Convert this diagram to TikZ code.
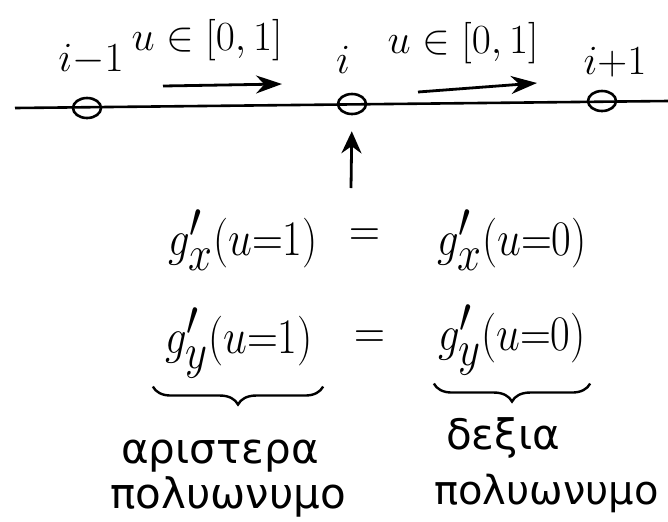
\documentclass[tikz,border=0pt]{standalone}
\usepackage{fontspec}
\setmainfont{Liberation Serif}
\newfontfamily\greekfont{DejaVu Sans}
\usepackage{amsmath,amssymb,graphicx}
\usetikzlibrary{arrows.meta, positioning, calc, shapes.geometric, decorations.pathreplacing}
\newcommand{\narrow}[1]{\scalebox{0.86}[1]{#1}}

\begin{document}
\begin{tikzpicture}[
    x=0.5pt, y=-0.5pt,
    knot/.style={draw, ellipse, line width=1.3pt, minimum width=14pt, minimum height=10pt, inner sep=0pt},
    idx/.style={font=\fontsize{21}{24}\selectfont},
    interval/.style={font=\fontsize{22}{24}\selectfont},
    eq/.style={font=\fontsize{36}{40}\selectfont, inner sep=1pt},
    word/.style={font=\greekfont\fontsize{21}{24}\selectfont, inner sep=1pt},
    arrow/.style={-{Stealth[length=13pt, width=9pt]}, line width=1.4pt},
    brace/.style={decorate, decoration={brace, mirror, amplitude=9pt}, line width=1.2pt}
]
\useasboundingbox (0,0) rectangle (668,521);

% Axis with the three points
\coordinate (axisL) at (15,108);
\coordinate (axisR) at (668,101);
\draw[line width=1.3pt] (axisL) -- (axisR);
\node[knot] (p1) at (87,108) {};
\node[knot] (p2) at (352,104) {};
\node[knot] (p3) at (602,101) {};

\node[idx] (l1) at (91,60) {$i{-}1$};
\node[idx] (l2) at (343,60) {$i$};
\node[idx] (l3) at (615,62) {$i{+}1$};

% Parameter ranges
\node[interval] (r1) at (207,40) {$u\in[0,1]$};
\node[interval] (r2) at (463,43) {$u\in[0,1]$};
\coordinate (a1s) at (163,86);
\coordinate (a1e) at (282,84);
\coordinate (a2s) at (418,92);
\coordinate (a2e) at (537,83);
\draw[arrow] (a1s) -- (a1e);
\draw[arrow] (a2s) -- (a2e);

% Continuity at the joint
\coordinate (up) at (351,188);
\draw[arrow, -{Stealth[length=11pt, width=10pt]}, shorten >=8pt] (up) -- (p2.south);

\node[eq] (lx) at (243,240) {\narrow{$g'_x(u{=}1)$}};
\node[eq] (ex) at (365,238) {\narrow{$=$}};
\node[eq] (rx) at (512,240) {\narrow{$g'_x(u{=}0)$}};
\node[eq] (ly) at (239,343) {\narrow{$g'_y(u{=}1)$}};
\node[eq] (ey) at (370,340) {\narrow{$=$}};
\node[eq] (ry) at (512,340) {\narrow{$g'_y(u{=}0)$}};

% Left / right polynomial
\draw[brace] ($(ly.south west)+(-10,6)$) -- ($(ly.south east)+(8,6)$);
\draw[brace] ($(ry.south west)+(-2,6)$) -- ($(ry.south east)+(2,6)$);
\node[word] (w1) at (220,456) {αριστερα};
\node[word] (w2) at (228,497) {πολυωνυμο};
\node[word] (w3) at (503,438) {δεξια};
\node[word, anchor=west, font=\greekfont\fontsize{20}{24}\selectfont] (w4) at (432,493) {πολυωνυμο};

\end{tikzpicture}
\end{document}
